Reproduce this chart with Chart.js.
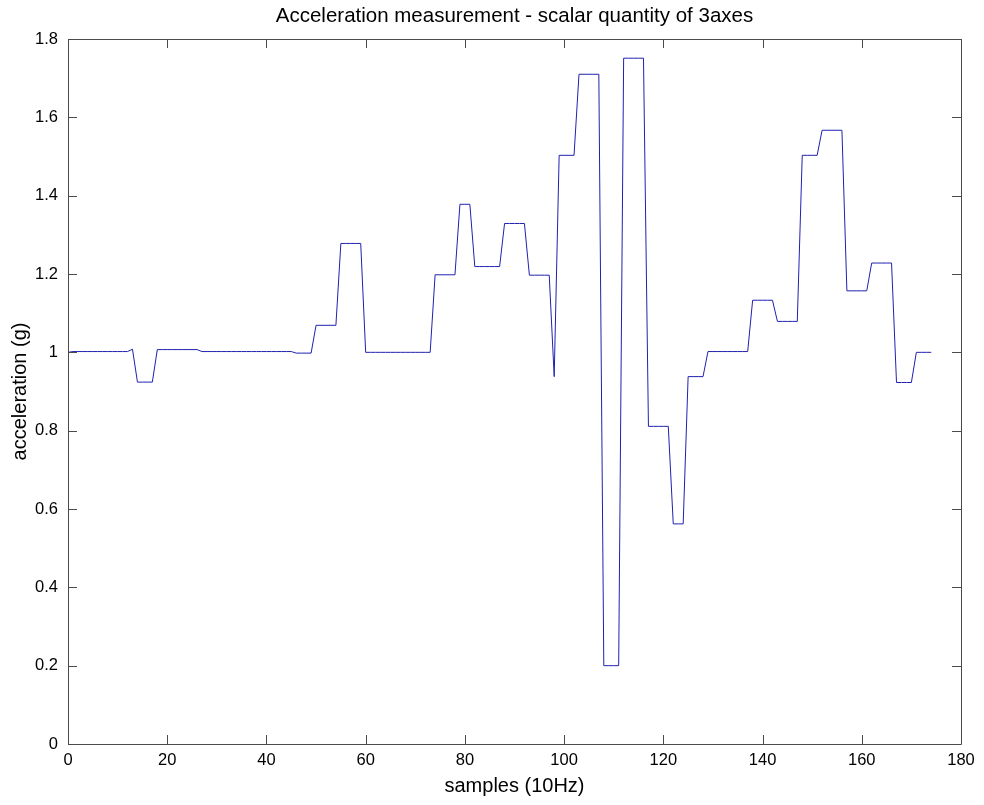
<!DOCTYPE html>
<html>
<head>
<meta charset="utf-8">
<title>Acceleration measurement</title>
<script src="https://cdn.jsdelivr.net/npm/chart.js@4.4.1/dist/chart.umd.min.js"></script>
<style>
  html, body { margin: 0; padding: 0; background: #fff; }
  #wrap { width: 984px; height: 805px; }
</style>
</head>
<body>
<div id="wrap"><canvas id="chart" width="984" height="805"></canvas></div>
<script>
/* ---- data ---- */
const TITLE  = 'Acceleration measurement - scalar quantity of 3axes';
const XLABEL = 'samples (10Hz)';
const YLABEL = 'acceleration (g)';

const X_TICKS = [0, 20, 40, 60, 80, 100, 120, 140, 160, 180];
const Y_TICKS = [0, 0.2, 0.4, 0.6, 0.8, 1, 1.2, 1.4, 1.6, 1.8];

// one value per sample, sample index = position in the array
const ACCEL = [
  1.000, 1.002, 1.002, 1.002, 1.002, 1.002, 1.002, 1.002, 1.002, 1.002,
  1.002, 1.002, 1.002, 1.008, 0.924, 0.924, 0.924, 0.924, 1.007, 1.007,
  1.007, 1.007, 1.007, 1.007, 1.007, 1.007, 1.007, 1.002, 1.002, 1.002,
  1.002, 1.002, 1.002, 1.002, 1.002, 1.002, 1.002, 1.002, 1.002, 1.002,
  1.002, 1.002, 1.002, 1.002, 1.002, 1.002, 0.998, 0.998, 0.998, 0.998,
  1.069, 1.069, 1.069, 1.069, 1.069, 1.278, 1.278, 1.278, 1.278, 1.278,
  1.000, 1.000, 1.000, 1.000, 1.000, 1.000, 1.000, 1.000, 1.000, 1.000,
  1.000, 1.000, 1.000, 1.000, 1.198, 1.198, 1.198, 1.198, 1.198, 1.378,
  1.378, 1.378, 1.219, 1.219, 1.219, 1.219, 1.219, 1.219, 1.329, 1.329,
  1.329, 1.329, 1.329, 1.197, 1.197, 1.197, 1.197, 1.197, 0.938, 1.503,
  1.503, 1.503, 1.503, 1.710, 1.710, 1.710, 1.710, 1.710, 0.200, 0.200,
  0.200, 0.200, 1.751, 1.751, 1.751, 1.751, 1.751, 0.811, 0.811, 0.811,
  0.811, 0.811, 0.562, 0.562, 0.562, 0.938, 0.938, 0.938, 0.938, 1.002,
  1.002, 1.002, 1.002, 1.002, 1.002, 1.002, 1.002, 1.002, 1.133, 1.133,
  1.133, 1.133, 1.133, 1.079, 1.079, 1.079, 1.079, 1.079, 1.503, 1.503,
  1.503, 1.503, 1.567, 1.567, 1.567, 1.567, 1.567, 1.157, 1.157, 1.157,
  1.157, 1.157, 1.228, 1.228, 1.228, 1.228, 1.228, 0.923, 0.923, 0.923,
  0.923, 1.000, 1.000, 1.000, 1.000
];

const AXIS_COLOR = '#4a4a4a';
const LINE_COLOR = '#2020b0';
const FONT = 'Arial, "Liberation Sans", Helvetica, sans-serif';

/* ---- box, inward ticks and title (MATLAB style) ---- */
const matlabAxes = {
  id: 'matlabAxes',
  afterDraw(chart) {
    const { ctx, chartArea: a, scales } = chart;
    const L = 9;
    ctx.save();
    ctx.strokeStyle = AXIS_COLOR;
    ctx.lineWidth = 1;
    ctx.beginPath();
    ctx.rect(Math.round(a.left) + 0.5, Math.round(a.top) + 0.5,
             Math.round(a.right - a.left), Math.round(a.bottom - a.top));
    X_TICKS.forEach(v => {
      const x = Math.round(scales.x.getPixelForValue(v)) + 0.5;
      ctx.moveTo(x, a.bottom); ctx.lineTo(x, a.bottom - L);
      ctx.moveTo(x, a.top);    ctx.lineTo(x, a.top + L);
    });
    Y_TICKS.forEach(v => {
      const y = Math.round(scales.y.getPixelForValue(v)) + 0.5;
      ctx.moveTo(a.left, y);  ctx.lineTo(a.left + L, y);
      ctx.moveTo(a.right, y); ctx.lineTo(a.right - L, y);
    });
    ctx.stroke();

    ctx.fillStyle = '#000';
    ctx.font = '20.5px ' + FONT;
    ctx.textAlign = 'center';
    ctx.textBaseline = 'middle';
    ctx.fillText(TITLE, (a.left + a.right) / 2, 16);
    ctx.restore();
  }
};

new Chart(document.getElementById('chart'), {
  type: 'line',
  data: {
    datasets: [{
      data: ACCEL.map((v, i) => ({ x: i, y: v })),
      borderColor: LINE_COLOR,
      borderWidth: 1,
      pointRadius: 0,
      tension: 0,
      fill: false
    }]
  },
  options: {
    responsive: false,
    animation: false,
    devicePixelRatio: 1,
    layout: { padding: { top: 39, right: 23, bottom: 0, left: 0 } },
    plugins: {
      legend: { display: false },
      title: { display: false },
      tooltip: { enabled: false }
    },
    scales: {
      x: {
        type: 'linear',
        min: 0,
        max: 180,
        afterFit: s => { s.height = 61; },
        afterBuildTicks: s => { s.ticks = X_TICKS.map(v => ({ value: v })); },
        ticks: { color: '#000', font: { size: 16.5, family: FONT }, padding: 7, maxRotation: 0, autoSkip: false },
        grid: { drawOnChartArea: false, drawTicks: false },
        border: { display: false },
        title: { display: true, text: XLABEL, color: '#000', font: { size: 20, family: FONT }, padding: { top: 0, bottom: 7 } }
      },
      y: {
        min: 0,
        max: 1.8,
        afterFit: s => { s.width = 68; },
        afterBuildTicks: s => { s.ticks = Y_TICKS.map(v => ({ value: v })); },
        ticks: {
          color: '#000',
          font: { size: 16.5, family: FONT },
          padding: 10,
          callback: v => String(+Number(v).toFixed(1))
        },
        grid: { drawOnChartArea: false, drawTicks: false },
        border: { display: false },
        title: { display: true, text: YLABEL, color: '#000', font: { size: 20, family: FONT }, padding: { top: 8, bottom: 0 } }
      }
    }
  },
  plugins: [matlabAxes]
});
</script>
</body>
</html>
